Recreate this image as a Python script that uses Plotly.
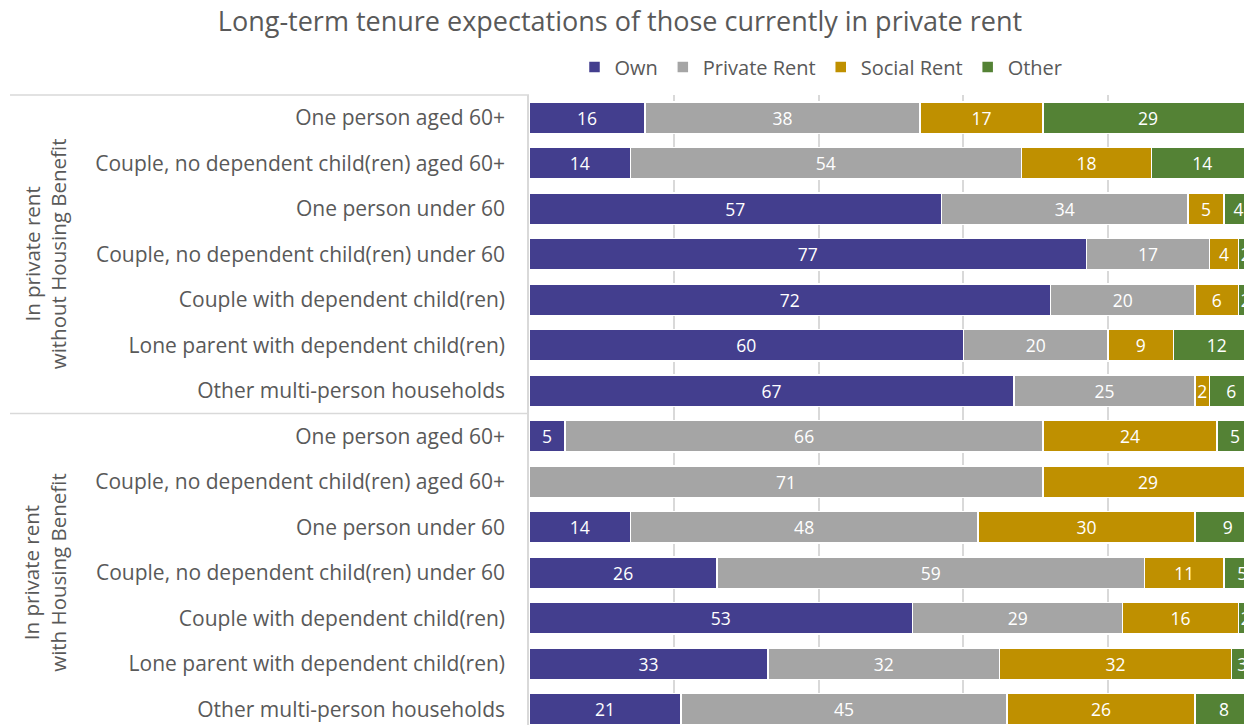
import plotly.graph_objects as go

# Household types, top to bottom (two groups of seven)
households = [
    "One person aged 60+",
    "Couple, no dependent child(ren) aged 60+",
    "One person under 60",
    "Couple, no dependent child(ren) under 60",
    "Couple with dependent child(ren)",
    "Lone parent with dependent child(ren)",
    "Other multi-person households",
    "One person aged 60+",
    "Couple, no dependent child(ren) aged 60+",
    "One person under 60",
    "Couple, no dependent child(ren) under 60",
    "Couple with dependent child(ren)",
    "Lone parent with dependent child(ren)",
    "Other multi-person households",
]
groups = ["In private rent<br>without Housing Benefit", "In private rent<br>with Housing Benefit"]

# Expected long-term tenure (%), one list per tenure
own = [16, 14, 57, 77, 72, 60, 67, 5, 0, 14, 26, 53, 33, 21]
private_rent = [38, 54, 34, 17, 20, 20, 25, 66, 71, 48, 59, 29, 32, 45]
social_rent = [17, 18, 5, 4, 6, 9, 2, 24, 29, 30, 11, 16, 32, 26]
other = [29, 14, 4, 2, 2, 12, 6, 5, 0, 9, 5, 2, 3, 8]

series = [
    ("Own", own, "#433E8E"),
    ("Private Rent", private_rent, "#A5A5A5"),
    ("Social Rent", social_rent, "#BF9000"),
    ("Other", other, "#548235"),
]

FONT = "Open Sans"
GREY_TEXT = "#595959"
GRID = "#D9D9D9"

W, H = 1244, 725
ML, MT = 529, 95
x_max = (W - ML) / 7.24
n = len(households)
y_top, y_bottom = -0.5, -0.5 + (H - MT) / 45.5
rows = list(range(n))

fig = go.Figure()
for name, vals, color in series:
    fig.add_trace(go.Bar(
        name=name,
        y=rows,
        x=vals,
        orientation="h",
        width=0.7,
        marker=dict(color=color, line=dict(color="white", width=1.5)),
        text=[str(v) if v else "" for v in vals],
        textposition="inside",
        insidetextanchor="middle",
        constraintext="none",
        textangle=0,
        textfont=dict(family=FONT, size=17.5, color="white"),
        hoverinfo="skip",
    ))


def paper_y(row_pos):
    return 1 - (row_pos - y_top) / (y_bottom - y_top)


x_left = (10 - ML) / (W - ML)
shapes = []
for pos in (-0.5, 6.5):
    shapes.append(dict(type="line", xref="paper", yref="paper",
                       x0=x_left, x1=0, y0=paper_y(pos), y1=paper_y(pos),
                       line=dict(color=GRID, width=1.5)))

annotations = []
for g, centre in zip(groups, (3, 10)):
    annotations.append(dict(
        text=g, xref="paper", yref="paper",
        x=(45 - ML) / (W - ML), y=paper_y(centre),
        xanchor="center", yanchor="middle", showarrow=False, textangle=-90,
        font=dict(family=FONT, size=20.5, color=GREY_TEXT),
    ))

fig.update_layout(
    barmode="stack",
    width=W, height=H, autosize=False,
    margin=dict(l=ML, r=0, t=MT, b=0, pad=0),
    paper_bgcolor="white", plot_bgcolor="white",
    title=dict(text="Long-term tenure expectations of those currently in private rent",
               x=(620 / W), xref="container", xanchor="center",
               y=1 - 22 / H, yref="container", yanchor="middle",
               font=dict(family=FONT, size=27, color=GREY_TEXT)),
    legend=dict(orientation="h", x=(821 - ML) / (W - ML), xanchor="center",
                y=1 + (MT - 67) / (H - MT), yanchor="middle",
                font=dict(family=FONT, size=20, color=GREY_TEXT),
                itemwidth=30, tracegroupgap=0,
                itemclick=False, itemdoubleclick=False, traceorder="normal"),
    xaxis=dict(range=[0, x_max], showgrid=True, gridcolor=GRID, gridwidth=1.5,
               dtick=20, tick0=0, showticklabels=False, zeroline=False,
               showline=False, fixedrange=True),
    yaxis=dict(range=[y_bottom, y_top], tickmode="array", tickvals=rows,
               ticktext=households, showgrid=False, zeroline=False,
               showline=True, linecolor=GRID, linewidth=1.5, ticks="",
               ticklabelstandoff=18,
               tickfont=dict(family=FONT, size=21, color=GREY_TEXT),
               fixedrange=True),
    shapes=shapes,
    annotations=annotations,
    showlegend=True,
)

fig.write_html("out.html", config={"displayModeBar": False})
